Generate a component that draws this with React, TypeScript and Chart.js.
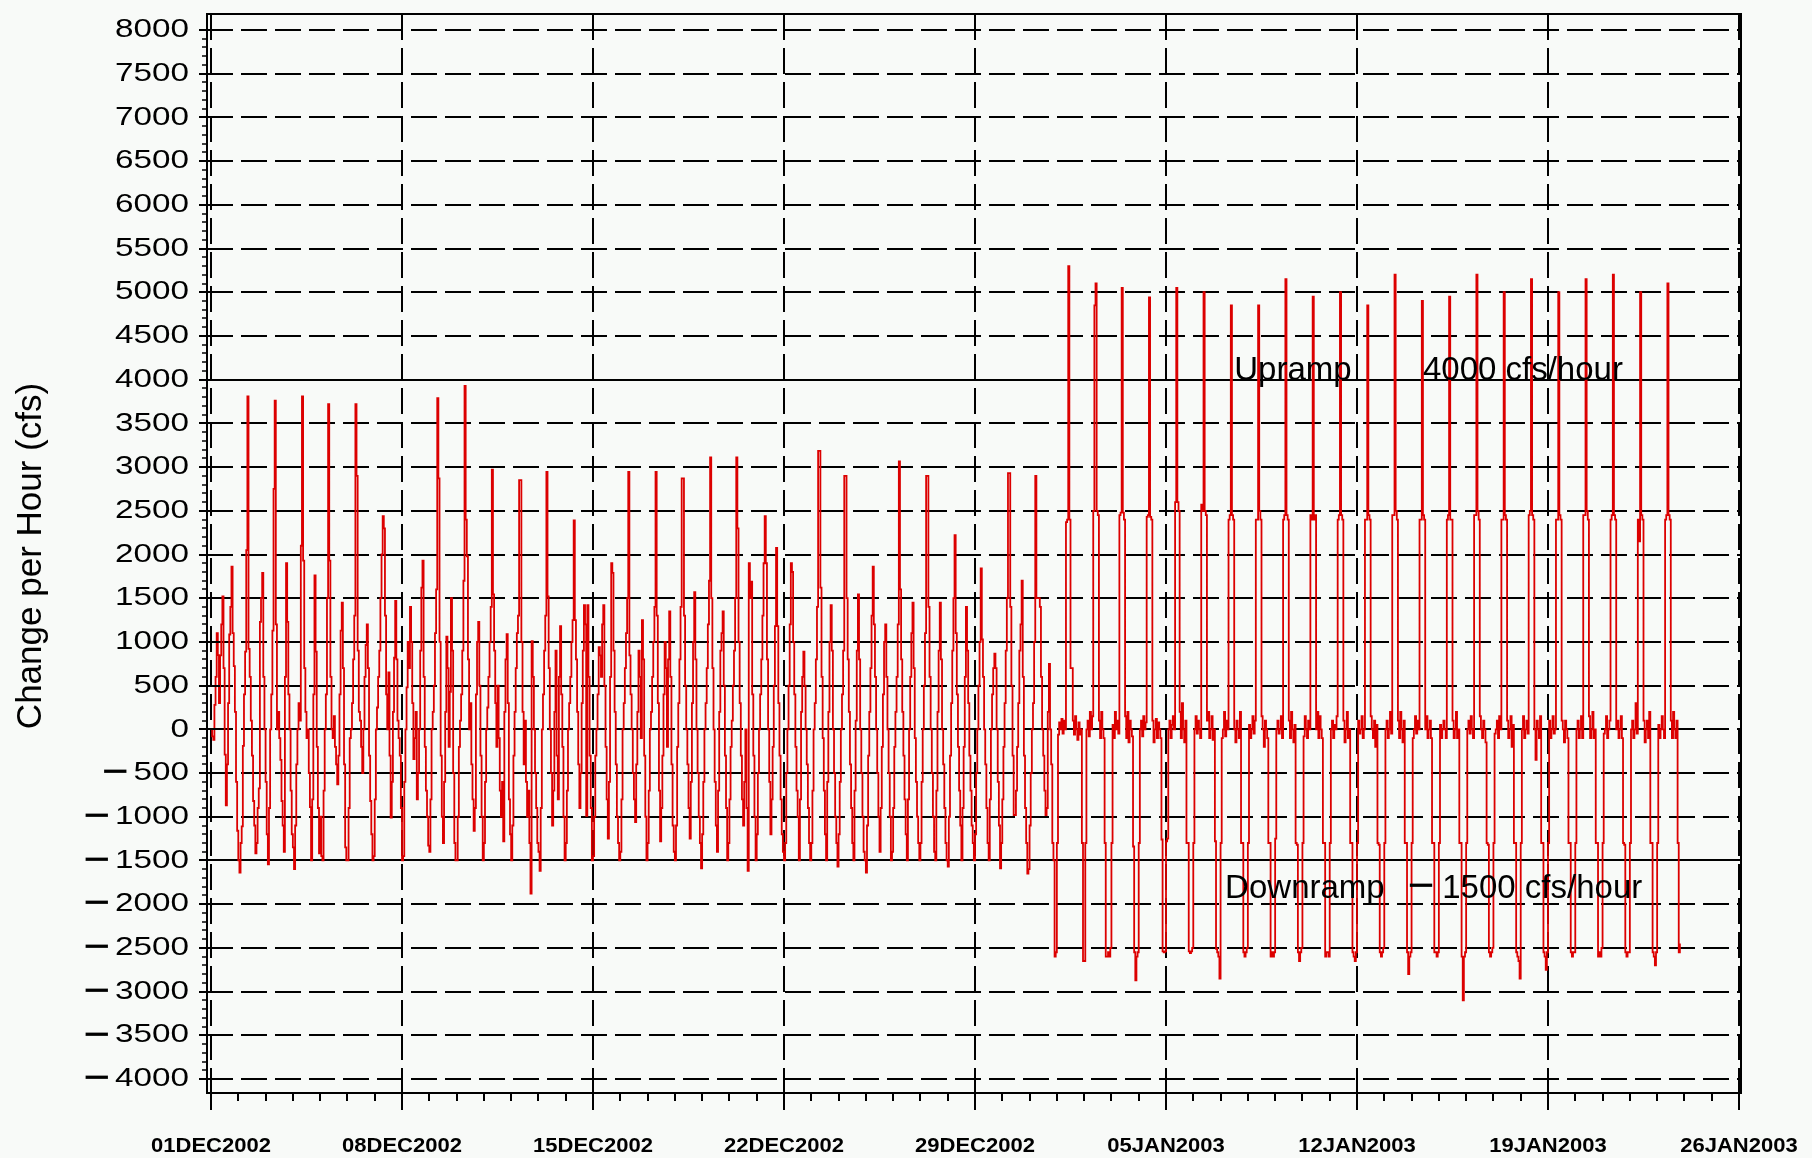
import { useEffect, useRef } from 'react';
import { Chart, registerables } from 'chart.js';

Chart.register(...registerables);

// Hourly change in flow (cfs), one array of hourly values per day, starting 01DEC2002 00:00
const decemberDays: number[][] = [
  [0, -80, -120, 280, 600, 1100, 850, 300, 845, 1200, 1520, 700, -290, -870, -400, 300, 1085, 1400, 1860, 1100, 724, 200, -600, -1160],
  [-1500, -1640, -1300, -1110, -190, 400, 890, 2050, 3810, 920, 600, 100, -300, -820, -1100, -1420, -1300, -900, -675, 1230, 1500, 1790, 600, 0],
  [-600, -1200, -1545, -900, 0, 400, 1130, 2750, 3760, 1200, 0, 200, -100, -350, -820, -1100, -1400, 600, 1900, 1230, 400, 0, -700, -1200],
  [-1350, -1600, -1100, -400, 0, 300, 100, 2100, 3810, 1930, 700, 200, -100, 0, -500, -890, -1500, -800, 400, 1760, 890, -200, -900, -1420],
  [-1000, -1450, -1500, -700, 0, 400, 1500, 3720, 1930, 600, 0, -100, 150, -200, -400, -630, -300, 400, 1130, 1450, 700, -400, -1350, -1500],
  [-1500, -900, -100, 0, 300, 800, 1300, 3720, 2900, 900, 200, 100, -200, -500, 0, 600, 965, 1200, 700, -300, -820, -1200, -1500, -1450],
  [-800, 0, 250, 600, 900, 1500, 2000, 2440, 2300, 1300, 400, 0, 650, -300, -1010, -600, 200, 820, 1470, 800, 100, -100, -300, -900],
  [-1500, -1450, -600, 0, 480, 1000, 700, 1400, 1000, 300, -340, -100, 200, -800, -500, 0, 900, 1620, 1930, 600, -200, -700, -1000, -1330],
  [-1400, -800, 0, 200, 500, 1100, 1600, 3790, 2870, 1000, -300, -1000, -1300, -600, 200, 1060, 700, -200, 430, 1500, 900, -500, -1300, -1500],
  [-1500, -1000, -200, 100, 400, 900, 1700, 3930, 2400, 1980, 800, 0, 300, -400, -800, -1160, -900, 400, 1000, 1230, 500, -300, -1000, -1500],
  [-1300, -600, 0, 250, 600, 1000, 1400, 2970, 1545, 900, 300, -200, 500, -100, -700, -1000, -600, -1280, 200, 800, 1090, 300, -800, -1200],
  [-1500, -1100, -300, 200, 700, 1100, 1300, 2850, 2850, 1000, 200, -400, 100, -600, -1000, -700, -1300, -1880, 1010, 600, 0, -500, -900, -1300],
  [-1400, -1620, -900, 0, 400, 900, 1300, 2945, 1520, 700, 0, -500, -1100, -700, 200, 900, -300, -800, 600, 1180, 400, -200, -1000, -1500],
  [-1300, -700, 0, 300, 600, 1000, 1250, 2390, 1250, 800, 200, -400, -900, -500, 300, 900, 1420, 1200, -990, 1420, 600, -300, -900, -1500],
  [-1450, -1000, -300, 0, 400, 940, 845, 600, 1200, 1420, 500, -200, -800, -1250, -600, 600, 1900, 1790, 900, 200, -400, -1000, -1300, -1500],
  [-1400, -800, 0, 300, 700, 1100, 1500, 2945, 845, 400, 0, -500, -800, -1060, -400, 200, 900, 600, -100, 1250, 800, -300, -1000, -1500],
  [-1300, -700, 0, 200, 600, 1000, 1400, 2945, 1300, 300, -700, -1280, -900, -300, 400, 1000, 700, -200, 800, 1350, 600, -400, -1100, -1400],
  [-1500, -1100, -200, 300, 800, 1400, 2870, 2870, 1300, 500, 0, -400, -900, -1250, -600, 300, 1000, 1570, 800, 0, -500, -1000, -1300, -1590],
  [-1200, -600, 0, 300, 700, 1200, 1700, 3110, 1500, 700, 0, -600, -1100, -1400, -700, 200, 900, 1100, 1350, 500, -300, -900, -1500, -1300],
  [-800, -200, 100, 500, 900, 1500, 3110, 2300, 1000, 300, -300, -800, -1100, -600, 0, -900, -1620, 1900, 1500, 1690, 400, -300, -1000, -1500],
  [-1200, -500, 0, 400, 800, 1300, 1900, 2440, 1900, 800, 0, -600, -1200, -800, -200, 500, 1180, 2075, 1180, 300, -300, -800, -1200, -1400],
  [-1500, -1300, -500, 0, 500, 1200, 1900, 1800, 1000, 400, -200, -700, -1000, -1500, -800, 200, 600, 890, 500, 0, -400, -900, -1300, -1500],
  [-1300, -700, 0, 300, 800, 1400, 3185, 3185, 1620, 600, -100, -700, -1200, -1500, -600, 200, 1000, 1420, 900, 0, -500, -1000, -1300, -1570],
  [-1200, -600, 0, 400, 900, 2900, 2900, 1500, 800, 200, -400, -900, -1300, -1500, -700, 100, 900, 1545, 800, 0, -500, -1000, -1400, -1500],
  [-1640, -1100, -300, 200, 700, 1300, 1860, 1200, 600, 0, -500, -1000, -1400, -900, -200, 400, 1000, 1200, 600, 0, -500, -1000, -1500, -1400],
  [-900, -200, 200, 600, 1200, 3065, 1600, 800, 200, -300, -800, -1200, -1500, -800, 0, 600, 1100, 1450, 700, -100, -600, -1000, -1300, -1500],
  [-1300, -600, 0, 500, 1100, 2900, 2900, 1400, 600, 0, -500, -1000, -1400, -1500, -700, 200, 900, 1450, 800, 0, -400, -900, -1300, -1500],
  [-1570, -1000, -300, 300, 900, 1500, 2220, 1100, 400, -200, -700, -1100, -1500, -900, -200, 600, 1400, 900, 300, -300, -700, -1100, -1300, -1500],
  [-1200, -500, 0, 500, 1000, 1840, 1030, 600, 0, -400, -900, -1300, -1500, -800, 0, 400, 700, 865, 700, 0, -600, -1100, -1590, -1300],
  [-800, -200, 300, 900, 1500, 2930, 2930, 1400, 500, -300, -980, -980, -700, -200, 300, 900, 1200, 1700, 600, -300, -900, -1300, -1650, -1600],
  [-1100, -500, 0, 300, 1000, 2900, 1500, 1500, 1500, 1400, 600, 0, -300, -700, -980, -900, 200, 750, 0, -400, -1300, -1500, -2600, -2550],
];

const januaryDays: number[][] = [
  [-1300, -60, 80, 0, 120, -50, 100, 0, 2370, 2400, 5300, 2400, 700, 700, 100, -60, 150, 0, -120, 80, -60, 0, -1300, -2650],
  [-2650, -1300, 0, 100, -80, 200, 0, 150, 2500, 4850, 5100, 2500, 2450, 100, -100, 200, 0, -100, -1300, -2600, -2600, -2550, -2600, -2500],
  [-1300, 50, -100, 200, 0, 100, -50, 2450, 2480, 5050, 2480, 2400, 150, -100, 200, -150, 100, 0, -80, -1340, -2550, -2870, -2600, -2550],
  [-1300, 0, 100, -80, 150, 0, 80, 2430, 2450, 4940, 2430, 2400, 100, -150, 0, 120, -100, 80, 0, -100, -1260, -2540, -2550, -2540],
  [-1280, -1250, 0, 100, -100, 50, 150, 0, 2600, 5050, 2600, 2500, 200, -100, 300, 0, -150, 100, -1300, -1300, -2540, -2560, -2540, -2500],
  [-1300, 0, 150, -50, 100, 0, -100, 2570, 2500, 5000, 2500, 2450, 100, 200, -100, 0, 150, -120, 0, -1280, -2510, -2550, -2600, -2850],
  [-1300, -100, 0, 200, -80, 100, 0, 2400, 2450, 4850, 2450, 2400, 0, -150, 100, 0, -100, 200, -1300, -1300, -2550, -2600, -2550, -2500],
  [-1300, 50, -100, 0, 150, -50, 100, 2400, 2400, 4850, 2500, 2400, 150, 0, -200, 100, 0, -100, -1300, -1300, -2600, -2550, -2600, -2550],
  [-1250, 0, 100, -50, 0, 150, -100, 2400, 2450, 5150, 2450, 2400, 100, -100, 200, 0, -150, 50, -1300, -1320, -2550, -2650, -2550, -2500],
  [-1300, -80, 150, 0, -100, 100, 0, 2450, 2400, 4950, 2400, 2450, 0, 200, -100, 150, 0, -100, -1300, -1300, -2600, -2550, -2550, -2600],
  [-1300, 0, 100, -100, 50, 0, 150, 2400, 2450, 5000, 2450, 2400, 100, -150, 0, 200, -100, 0, -1300, -1300, -2550, -2600, -2650, -2550],
  [-1300, 100, -50, 0, 150, -100, 0, 2400, 2400, 4850, 2450, 2400, 150, 0, -100, 100, -200, 50, -1300, -1320, -2550, -2600, -2550, -2500],
  [-1300, 0, 100, -100, 0, 200, -50, 2450, 2450, 5200, 2500, 2400, 100, -100, 200, 0, -150, 100, -1300, -1300, -2550, -2800, -2600, -2550],
  [-1300, -100, 0, 150, -50, 100, 0, 2400, 2400, 4900, 2450, 2400, 0, 150, -100, 0, 100, -100, -1300, -1300, -2550, -2550, -2600, -2550],
  [-1300, 50, -100, 0, 100, 0, -100, 2400, 2450, 4950, 2400, 2400, 100, -100, 0, 200, -100, 0, -1300, -1300, -2600, -3100, -2600, -2550],
  [-1300, 0, 100, -50, 150, 0, -100, 2450, 2450, 5200, 2500, 2400, 150, 0, -100, 100, 0, -150, -1300, -1320, -2550, -2600, -2550, -2500],
  [-1300, -50, 0, 100, -100, 150, 0, 2400, 2400, 5000, 2450, 2400, 100, -100, 0, 150, -200, 50, -1300, -1300, -2550, -2600, -2650, -2850],
  [-1300, 0, 150, -100, 0, 100, -50, 2450, 2500, 5150, 2450, 2400, 0, -350, 100, 0, -100, 150, -1300, -1300, -2550, -2600, -2750, -2550],
  [-1300, 100, -100, 0, 150, -50, 0, 2400, 2400, 5000, 2450, 2400, 100, 0, -150, 100, 0, -100, -1300, -1300, -2550, -2600, -2550, -2550],
  [-1300, 0, 100, -100, 0, 150, -100, 2450, 2450, 5150, 2500, 2400, 150, -100, 0, 200, -100, 0, -1300, -1300, -2600, -2550, -2600, -2500],
  [-1300, -50, 0, 150, -100, 0, 100, 2400, 2450, 5200, 2450, 2400, 0, 100, -100, 0, 150, -100, -1300, -1320, -2550, -2600, -2550, -2550],
  [-1300, 0, 100, -100, 0, 300, -50, 2400, 2150, 5000, 2450, 2400, 100, -150, 0, 100, -100, 200, -1300, -1300, -2550, -2600, -2700, -2550],
  [-1300, 50, -100, 0, 150, 0, -100, 2400, 2450, 5100, 2450, 2400, 100, -100, 200, 0, -100, 100, -1300, -2550, -2450],
];

const yTickValues = [8000, 7500, 7000, 6500, 6000, 5500, 5000, 4500, 4000, 3500, 3000, 2500, 2000, 1500, 1000, 500, 0, -500, -1000, -1500, -2000, -2500, -3000, -3500, -4000];
const xTickHours = [0, 168, 336, 504, 672, 840, 1008, 1176, 1344];
const xTickLabels = ['01DEC2002', '08DEC2002', '15DEC2002', '22DEC2002', '29DEC2002', '05JAN2003', '12JAN2003', '19JAN2003', '26JAN2003'];
const upRampLimit = 4000;
const downRampLimit = -1500;
const yAxisTitle = 'Change per Hour (cfs)';
const upRampText = ['Upramp', '4000 cfs/hour'];
const downRampText = ['Downramp', '1500 cfs/hour'];

const BG = '#f8faf8';
const LINE = 'rgb(220,0,0)';
const FONT = '"Liberation Sans", Arial, sans-serif';

function drawScaled(ctx: CanvasRenderingContext2D, text: string, x: number, y: number, font: string, align: string, sx: number, baseline: CanvasTextBaseline) {
  ctx.save();
  ctx.font = font;
  ctx.textBaseline = baseline;
  ctx.textAlign = 'left';
  const w = ctx.measureText(text).width * sx;
  const x0 = align === 'right' ? x - w : align === 'center' ? x - w / 2 : x;
  ctx.translate(x0, y);
  ctx.scale(sx, 1);
  ctx.fillText(text, 0, 0);
  ctx.restore();
  return w;
}

function drawMinus(ctx: CanvasRenderingContext2D, rightX: number, y: number, width: number) {
  ctx.save();
  ctx.font = `bold 30px ${FONT}`;
  ctx.textBaseline = 'middle';
  const m = ctx.measureText('\u2212').width;
  const sx = width / m;
  ctx.translate(rightX - width, y);
  ctx.scale(sx, 1);
  ctx.fillText('\u2212', 0, 0);
  ctx.restore();
}

const sasPlugin = {
  id: 'sasFrame',
  beforeDraw(chart: any) {
    const ctx = chart.ctx;
    ctx.save();
    ctx.fillStyle = BG;
    ctx.fillRect(0, 0, chart.width, chart.height);
    ctx.restore();
  },
  beforeDatasetsDraw(chart: any) {
    const { ctx, chartArea: a, scales } = chart;
    const xs = scales.x;
    const ys = scales.y;
    ctx.save();
    ctx.strokeStyle = '#000';
    ctx.lineWidth = 2;
    ctx.setLineDash([26, 8]);
    for (const v of yTickValues) {
      if (v === upRampLimit || v === downRampLimit) continue;
      const py = Math.round(ys.getPixelForValue(v));
      ctx.beginPath();
      ctx.moveTo(a.left, py);
      ctx.lineTo(a.right, py);
      ctx.stroke();
    }
    for (const h of xTickHours) {
      const px = Math.round(xs.getPixelForValue(h));
      ctx.beginPath();
      ctx.moveTo(px, a.top);
      ctx.lineTo(px, a.bottom);
      ctx.stroke();
    }
    ctx.setLineDash([]);
    ctx.lineWidth = 2;
    for (const v of [upRampLimit, downRampLimit]) {
      const py = Math.round(ys.getPixelForValue(v));
      ctx.beginPath();
      ctx.moveTo(a.left, py);
      ctx.lineTo(a.right, py);
      ctx.stroke();
    }
    ctx.restore();
  },
  afterDatasetsDraw(chart: any) {
    const { ctx, chartArea: a, scales } = chart;
    const xs = scales.x;
    const ys = scales.y;
    ctx.save();
    ctx.strokeStyle = '#000';
    ctx.fillStyle = '#000';
    ctx.setLineDash([]);
    // frame
    ctx.lineWidth = 2;
    ctx.strokeRect(a.left, a.top, a.right - a.left, a.bottom - a.top);

    // y ticks
    for (let v = -4000; v <= 8000; v += 100) {
      const py = Math.round(ys.getPixelForValue(v));
      ctx.beginPath();
      if (v % 500 === 0) {
        ctx.lineWidth = 2;
        ctx.moveTo(a.left - 8, py);
        ctx.lineTo(a.left + 13, py);
      } else {
        ctx.lineWidth = 1.5;
        ctx.moveTo(a.left - 5, py);
        ctx.lineTo(a.left + 1, py);
      }
      ctx.stroke();
    }
    // x ticks (daily minor, weekly major)
    for (let h = 0; h <= 1344; h += 24) {
      const px = Math.round(xs.getPixelForValue(h));
      const major = h % 168 === 0;
      ctx.lineWidth = 2;
      ctx.beginPath();
      ctx.moveTo(px, a.bottom);
      ctx.lineTo(px, a.bottom + (major ? 17 : 8));
      ctx.stroke();
    }

    // y labels
    ctx.font = `26px ${FONT}`;
    const ySx = 74 / ctx.measureText('8000').width;
    const labelRight = 189;
    for (const v of yTickValues) {
      const py = ys.getPixelForValue(v);
      const digits = String(Math.abs(v));
      const w = drawScaled(ctx, digits, labelRight, py, `26px ${FONT}`, 'right', ySx, 'middle');
      if (v < 0) drawMinus(ctx, labelRight - w - 5, py, 26);
    }

    // x labels
    const xFont = `bold 20px ${FONT}`;
    ctx.font = xFont;
    const xSx = 120 / ctx.measureText(xTickLabels[0]).width;
    xTickHours.forEach((h, i) => {
      const px = xs.getPixelForValue(h);
      drawScaled(ctx, xTickLabels[i], px, 1146, xFont, 'center', xSx, 'middle');
    });

    // y title
    ctx.save();
    ctx.translate(41, 556);
    ctx.rotate(-Math.PI / 2);
    ctx.font = `35px ${FONT}`;
    ctx.textAlign = 'center';
    ctx.textBaseline = 'alphabetic';
    ctx.fillText(yAxisTitle, 0, 0);
    ctx.restore();

    // ramp annotations
    const upY = ys.getPixelForValue(upRampLimit);
    const downBase = ys.getPixelForValue(-2000) - 6;
    const annFont = `33px ${FONT}`;
    drawScaled(ctx, upRampText[0], xs.getPixelForValue(900), upY, annFont, 'left', 1, 'alphabetic');
    drawScaled(ctx, upRampText[1], xs.getPixelForValue(1066), upY, annFont, 'left', 1, 'alphabetic');
    drawScaled(ctx, downRampText[0], xs.getPixelForValue(892), downBase, annFont, 'left', 1, 'alphabetic');
    const d2x = xs.getPixelForValue(1083);
    drawScaled(ctx, downRampText[1], d2x, downBase, annFont, 'left', 1, 'alphabetic');
    drawMinus(ctx, d2x - 8, downBase - 11, 26);
    ctx.restore();
  },
};

function buildPoints() {
  const pts: { x: number; y: number }[] = [];
  const allDays = [...decemberDays, ...januaryDays];
  allDays.forEach((day, d) => {
    day.forEach((v, h) => pts.push({ x: d * 24 + h, y: v }));
  });
  return pts;
}

export default function App() {
  const ref = useRef<HTMLCanvasElement>(null);
  useEffect(() => {
    const canvas = ref.current;
    if (!canvas) return;
    const chart = new Chart(canvas, {
      type: 'line',
      data: {
        datasets: [
          {
            data: buildPoints(),
            borderColor: LINE,
            borderWidth: 1.8,
            pointRadius: 0,
            tension: 0,
            stepped: true,
            fill: false,
          },
        ],
      },
      options: {
        responsive: false,
        animation: false,
        parsing: false,
        normalized: true,
        events: [],
        layout: { padding: { left: 207, top: 14, right: 71, bottom: 65 } },
        plugins: { legend: { display: false }, tooltip: { enabled: false } },
        scales: {
          x: { type: 'linear', display: false, min: -3.52, max: 1345.76 },
          y: { type: 'linear', display: false, min: -4160, max: 8183 },
        },
      },
      plugins: [sasPlugin],
    } as any);
    return () => chart.destroy();
  }, []);
  return (
    <div style={{ position: 'absolute', left: 0, top: 0, width: 1812, height: 1158, background: BG }}>
      <canvas ref={ref} width={1812} height={1158} style={{ display: 'block' }} />
    </div>
  );
}
